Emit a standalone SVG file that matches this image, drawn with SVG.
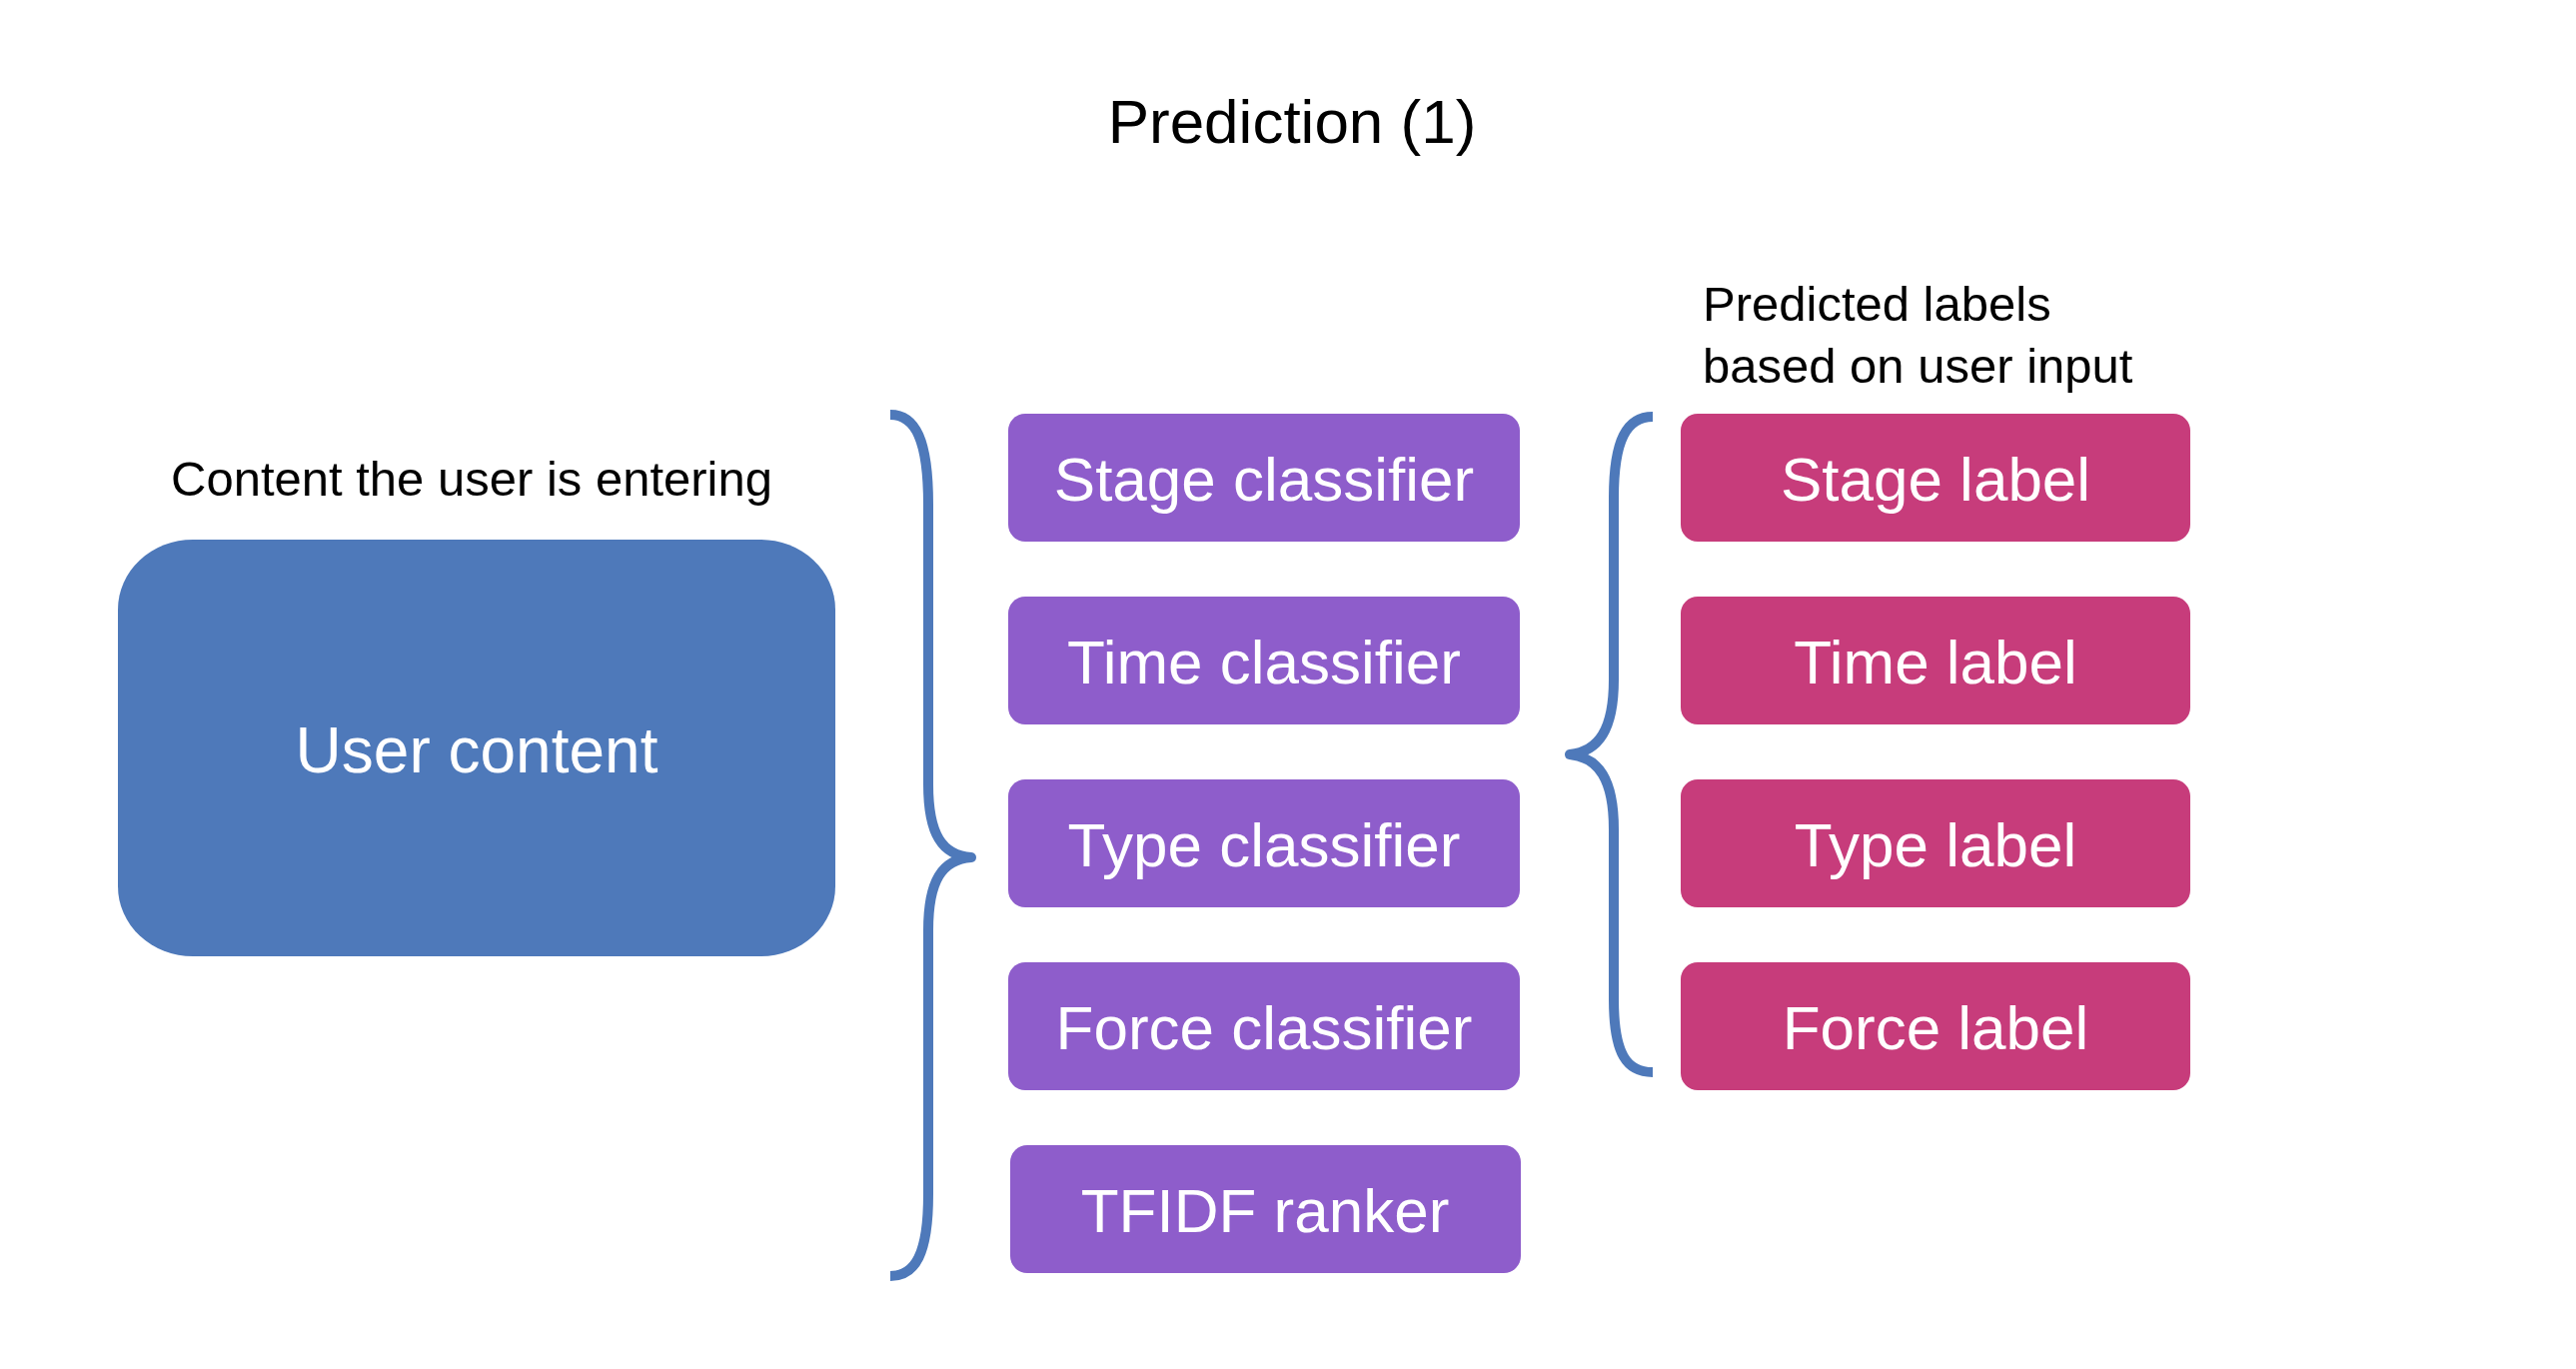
<svg xmlns="http://www.w3.org/2000/svg" width="2578" height="1370" viewBox="0 0 2578 1370">
<style>
text{font-family:"Liberation Sans",Arial,sans-serif}
.cap{fill:#000;font-size:49px}
.title{fill:#000;font-size:62px;text-anchor:middle}
.lbl{fill:#fff;font-size:62px;text-anchor:middle}
.big{fill:#fff;font-size:64px;text-anchor:middle}
.purple{fill:#8E5DCB}
.pink{fill:#C73C7B}
.user{fill:#4E79BA}
.brace{fill:none;stroke:#4E79BA;stroke-width:10;stroke-linejoin:round}
</style>
<rect width="2578" height="1370" fill="#fff"/>
<text class="title" x="1293" y="143">Prediction (1)</text>
<text class="cap" x="171" y="496">Content the user is entering</text>
<text class="cap" x="1704" y="321">Predicted labels</text>
<text class="cap" x="1704" y="383">based on user input</text>

<g id="user-content">
<rect class="user" x="118" y="540" width="718" height="417" rx="75" ry="70"/>
<text class="big" x="477" y="773">User content</text>
</g>

<g id="stage-classifier">
<rect class="purple" x="1009" y="414" width="512" height="128" rx="17"/>
<text class="lbl" x="1265" y="501">Stage classifier</text>
</g>
<g id="time-classifier">
<rect class="purple" x="1009" y="597" width="512" height="128" rx="17"/>
<text class="lbl" x="1265" y="684">Time classifier</text>
</g>
<g id="type-classifier">
<rect class="purple" x="1009" y="780" width="512" height="128" rx="17"/>
<text class="lbl" x="1265" y="867">Type classifier</text>
</g>
<g id="force-classifier">
<rect class="purple" x="1009" y="963" width="512" height="128" rx="17"/>
<text class="lbl" x="1265" y="1050">Force classifier</text>
</g>
<g id="tfidf-ranker">
<rect class="purple" x="1011" y="1146" width="511" height="128" rx="17"/>
<text class="lbl" x="1266" y="1233">TFIDF ranker</text>
</g>

<g id="stage-label">
<rect class="pink" x="1682" y="414" width="510" height="128" rx="17"/>
<text class="lbl" x="1937" y="501">Stage label</text>
</g>
<g id="time-label">
<rect class="pink" x="1682" y="597" width="510" height="128" rx="17"/>
<text class="lbl" x="1937" y="684">Time label</text>
</g>
<g id="type-label">
<rect class="pink" x="1682" y="780" width="510" height="128" rx="17"/>
<text class="lbl" x="1937" y="867">Type label</text>
</g>
<g id="force-label">
<rect class="pink" x="1682" y="963" width="510" height="128" rx="17"/>
<text class="lbl" x="1937" y="1050">Force label</text>
</g>

<g id="connectors">
<path class="brace" d="M891,415 C916,415 929,440 929,505 L929,785 C929,835 943,856 972,858 C943,860 929,881 929,931 L929,1195 C929,1255 916,1277 891,1277"/>
<path class="brace" d="M1654,417 C1628,417 1615,440 1615,498 L1615,680 C1615,730 1600,752 1571,755 C1600,758 1615,780 1615,830 L1615,1000 C1615,1055 1628,1073 1654,1073"/>
</g>
</svg>
